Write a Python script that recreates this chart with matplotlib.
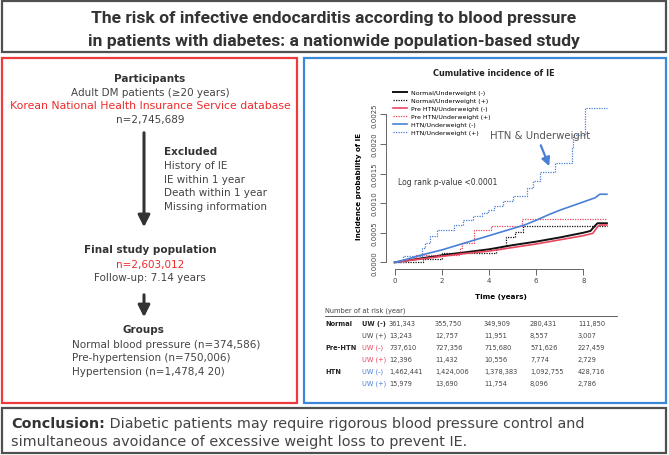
import matplotlib.pyplot as plt
from matplotlib.patches import Rectangle

W, H = 669, 456

# ---- cumulative incidence curves (time in years, probability) ----
normal_neg_t = [0, 1, 2, 3, 4, 5, 6, 7, 7.5, 8, 8.3, 8.5, 8.6, 9]
normal_neg_p = [0, 0.00006, 0.00012, 0.00017, 0.00022, 0.00029, 0.00035,
                0.00042, 0.00046, 0.00050, 0.00053, 0.00062, 0.00066, 0.00066]
normal_pos_t = [0, 1.2, 2.0, 4.3, 4.5, 4.7, 5.1, 5.45, 9]
normal_pos_p = [0, 0.00005, 0.00015, 0.00022, 0.00028, 0.00042, 0.00051,
                0.00062, 0.00062]
prehtn_neg_t = [0, 1, 2, 3, 4, 5, 6, 7, 8, 8.4, 8.6, 8.7, 9]
prehtn_neg_p = [0, 0.00005, 0.00010, 0.00015, 0.00019, 0.00025, 0.00031,
                0.00038, 0.00045, 0.00049, 0.00060, 0.00063, 0.00063]
prehtn_pos_t = [0, 0.4, 0.9, 2.75, 2.85, 3.35, 4.1, 5.4, 9]
prehtn_pos_p = [0, 0.00006, 0.00013, 0.00025, 0.00032, 0.00054, 0.00062,
                0.00074, 0.00074]
htn_neg_t = [0, 0.5, 1, 1.5, 2, 2.5, 3, 3.5, 4, 4.5, 5, 5.5, 6, 6.5, 7, 7.5,
             8, 8.5, 8.7, 9]
htn_neg_p = [0, 0.00005, 0.00011, 0.00016, 0.00021, 0.00027, 0.00033,
             0.00039, 0.00045, 0.00051, 0.00057, 0.00063, 0.00071, 0.00080,
             0.00088, 0.00095, 0.00102, 0.00109, 0.00115, 0.00115]
htn_pos_t = [0, 0.35, 1.15, 1.3, 1.5, 1.8, 2.5, 2.9, 3.3, 3.7, 3.95, 4.2,
             4.6, 5.0, 5.6, 5.85, 6.15, 6.8, 7.5, 7.58, 8.05, 9]
htn_pos_p = [0, 0.00011, 0.00025, 0.00033, 0.00044, 0.00055, 0.00063,
             0.00071, 0.00078, 0.00084, 0.00088, 0.00095, 0.00104, 0.00112,
             0.00125, 0.00138, 0.00152, 0.00167, 0.00195, 0.00215, 0.00261,
             0.00261]

legend_labels = ['Normal/Underweight (-)', 'Normal/Underweight (+)',
                 'Pre HTN/Underweight (-)', 'Pre HTN/Underweight (+)',
                 'HTN/Underweight (-)', 'HTN/Underweight (+)']

# ---- number at risk table ----
risk_groups = ['Normal', '', 'Pre-HTN', '', 'HTN', '']
risk_uw = ['UW (-)', 'UW (+)', 'UW (-)', 'UW (+)', 'UW (-)', 'UW (+)']
risk_values = [
    ['361,343', '355,750', '349,909', '280,431', '111,850'],
    ['13,243', '12,757', '11,951', '8,557', '3,007'],
    ['737,610', '727,356', '715,680', '571,626', '227,459'],
    ['12,396', '11,432', '10,556', '7,774', '2,729'],
    ['1,462,441', '1,424,006', '1,378,383', '1,092,755', '428,716'],
    ['15,979', '13,690', '11,754', '8,096', '2,786'],
]

# ---- flowchart text ----
exclusions = ['History of IE', 'IE within 1 year', 'Death within 1 year',
              'Missing information']
groups = ['Normal blood pressure (n=374,586)', 'Pre-hypertension (n=750,006)',
          'Hypertension (n=1,478,4 20)']

BLACK = '#111111'
RED = '#e8455f'
BLUE = '#4a7fd6'
GRAY = '#444444'

plt.rcParams['font.family'] = 'DejaVu Sans'

fig = plt.figure(figsize=(W / 100, H / 100), dpi=100)

# overlay in pixel coordinates
ov = fig.add_axes([0, 0, 1, 1], zorder=0)
ov.set_xlim(0, W)
ov.set_ylim(H, 0)
ov.axis('off')

ov.add_patch(Rectangle((2, 2), 664, 51, fill=False, ec='#505050', lw=1.6))
ov.add_patch(Rectangle((2, 59), 295, 345, fill=False, ec='#ee3a3a', lw=1.6))
ov.add_patch(Rectangle((304, 59), 362, 345, fill=False, ec='#3b88d8', lw=1.6))
ov.add_patch(Rectangle((2, 409), 664, 45, fill=False, ec='#505050', lw=1.6))

# title
title_lines = ['The risk of infective endocarditis according to blood pressure',
               'in patients with diabetes: a nationwide population-based study']
for i, s in enumerate(title_lines):
    ov.text(334, 18 + 23.5 * i, s, ha='center', va='center', fontsize=12.6,
            fontweight='bold', family='Roboto', color='#333333')

# left flowchart
ov.text(150, 79, 'Participants', ha='center', va='center', fontsize=7.5,
        fontweight='bold', color='#333333')
ov.text(150, 93, 'Adult DM patients (\u226520 years)', ha='center', va='center',
        fontsize=7.5, color=GRAY)
ov.text(150, 106.5, 'Korean National Health Insurance Service database',
        ha='center', va='center', fontsize=7.8, color='#ee2b2b')
ov.text(150, 120, 'n=2,745,689', ha='center', va='center', fontsize=7.5,
        color=GRAY)
ov.annotate('', xy=(144, 231), xytext=(144, 131),
            arrowprops=dict(arrowstyle='-|>,head_width=0.35,head_length=0.7',
                            lw=2.2, color='#333333'))
ov.text(164, 152.5, 'Excluded', ha='left', va='center', fontsize=7.5,
        fontweight='bold', color='#333333')
for i, s in enumerate(exclusions):
    ov.text(164, 166.5 + 13.4 * i, s, ha='left', va='center', fontsize=7.5,
            color=GRAY)
ov.text(150, 250.5, 'Final study population', ha='center', va='center',
        fontsize=7.5, fontweight='bold', color='#333333')
ov.text(150, 265, 'n=2,603,012', ha='center', va='center', fontsize=7.5,
        color='#ee2b2b')
ov.text(150, 278.5, 'Follow-up: 7.14 years', ha='center', va='center',
        fontsize=7.5, color=GRAY)
ov.annotate('', xy=(144, 321), xytext=(144, 293),
            arrowprops=dict(arrowstyle='-|>,head_width=0.35,head_length=0.7',
                            lw=2.2, color='#333333'))
ov.text(143, 330.5, 'Groups', ha='center', va='center', fontsize=7.5,
        fontweight='bold', color='#333333')
for i, s in enumerate(groups):
    ov.text(72, 345 + 13.4 * i, s, ha='left', va='center', fontsize=7.5,
            color=GRAY)

# conclusion
t_bold = ov.text(11, 424.5, 'Conclusion:', ha='left', va='center',
                 fontsize=10.4, fontweight='bold', color='#333333')
ov.annotate(' Diabetic patients may require rigorous blood pressure control and',
            xy=(1, 0.5), xycoords=t_bold, ha='left', va='center',
            fontsize=10.4, color=GRAY)
ov.text(11, 442.5, 'simultaneous avoidance of excessive weight loss to prevent IE.',
        ha='left', va='center', fontsize=10.4, color=GRAY)

# ---- chart ----
left, right, top, bottom = 386.2, 615.4, 102.6, 269.5
ax = fig.add_axes([left / W, 1 - bottom / H, (right - left) / W,
                   (bottom - top) / H], zorder=2)
ax.patch.set_alpha(0)

ax.plot(normal_neg_t, normal_neg_p, color=BLACK, lw=1.4,
        label=legend_labels[0])
ax.step(normal_pos_t, normal_pos_p, where='post', color=BLACK, lw=0.9,
        ls=(0, (1, 1)), label=legend_labels[1])
ax.plot(prehtn_neg_t, prehtn_neg_p, color=RED, lw=1.2,
        label=legend_labels[2])
ax.step(prehtn_pos_t, prehtn_pos_p, where='post', color=RED, lw=0.9,
        ls=(0, (1, 1)), label=legend_labels[3])
ax.plot(htn_neg_t, htn_neg_p, color=BLUE, lw=1.2, label=legend_labels[4])
ax.step(htn_pos_t, htn_pos_p, where='post', color=BLUE, lw=0.9,
        ls=(0, (1, 1)), label=legend_labels[5])

ax.set_xlim(-0.36, 9.36)
ax.set_ylim(-0.000104, 0.002714)
ax.set_xticks([0, 2, 4, 6, 8])
ax.set_yticks([0, 0.0005, 0.001, 0.0015, 0.002, 0.0025])
ax.set_yticklabels(['0.0000', '0.0005', '0.0010', '0.0015', '0.0020',
                    '0.0025'], rotation=90, va='center')
for side in ['top', 'right']:
    ax.spines[side].set_visible(False)
ax.spines['left'].set_bounds(0, 0.0025)
ax.spines['bottom'].set_bounds(0, 8)
for side in ['left', 'bottom']:
    ax.spines[side].set_color('#666666')
    ax.spines[side].set_linewidth(0.7)
ax.tick_params(length=4, width=0.7, color='#666666', labelsize=5,
               labelcolor='#444444', pad=2)
ax.set_xlabel('Time (years)', fontsize=5.2, fontweight='bold', labelpad=7)
ax.set_ylabel('Incidence probability of IE', fontsize=5.2, fontweight='bold',
              labelpad=7)

ax.legend(loc='upper left', bbox_to_anchor=(0.01, 1.095), fontsize=4.5,
          frameon=False, handlelength=2.2, handletextpad=0.7,
          labelspacing=0.42, borderpad=0.2)

ax.text(6.16, 0.00215, 'HTN & Underweight', ha='center', va='center',
        fontsize=7.3, color='#555555')
ax.annotate('', xy=(6.6, 0.00158), xytext=(6.15, 0.00202),
            arrowprops=dict(arrowstyle='-|>,head_width=0.25,head_length=0.5',
                            lw=1.6, color=BLUE))
ax.text(0.13, 0.00136, 'Log rank p-value <0.0001', ha='left', va='center',
        fontsize=5.5, color='#333333')

ov.text(494, 74, 'Cumulative incidence of IE', ha='center', va='center',
        fontsize=5.9, fontweight='bold', color='#222222')

# ---- at-risk table ----
ov.text(325, 310.5, 'Number of at risk (year)', ha='left', va='center',
        fontsize=4.8, color='#444444')
ov.plot([325, 617], [317.3, 317.3], color='#444444', lw=0.6)
uw_colors = ['#222222', '#444444', RED, RED, BLUE, BLUE]
value_x = [389, 435, 484, 530, 578]
for r in range(6):
    y = 323.7 + 12.1 * r
    ov.text(325, y, risk_groups[r], ha='left', va='center', fontsize=4.8,
            fontweight='bold', color='#222222')
    ov.text(362, y, risk_uw[r], ha='left', va='center', fontsize=4.8,
            color=uw_colors[r], fontweight='bold' if r == 0 else 'normal')
    for c, v in enumerate(risk_values[r]):
        ov.text(value_x[c], y, v, ha='left', va='center', fontsize=4.8,
                color='#444444')

fig.savefig('out.png', dpi=100)
